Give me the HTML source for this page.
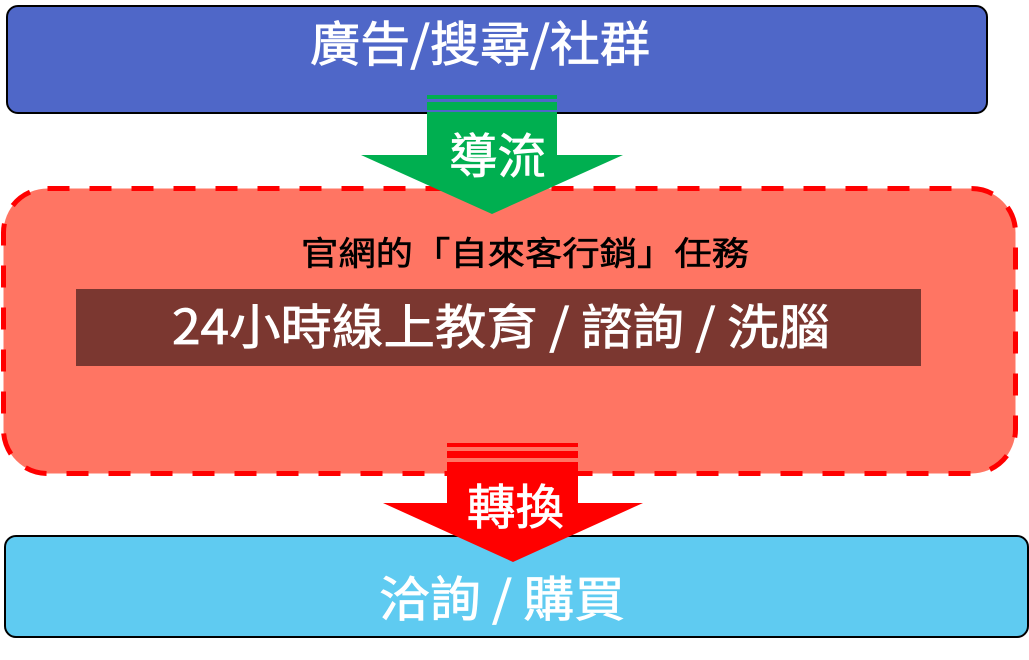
<!DOCTYPE html>
<html><head><meta charset="utf-8"><style>
body{margin:0;width:1029px;height:660px;background:#fff;position:relative;overflow:hidden}
text{font-family:"Noto Sans CJK TC","Liberation Sans",sans-serif}
</style></head><body>
<svg style="position:absolute;left:0;top:0" width="1029" height="660">
<rect x="7" y="6" width="980" height="107" rx="11" fill="#4F67C8" stroke="#000" stroke-width="2"/>
<rect x="3.5" y="188.5" width="1012" height="285" rx="44" fill="#FF7563" stroke="#FF0000" stroke-width="5" stroke-dasharray="22 20"/>
<rect x="5" y="536" width="1023" height="101" rx="11" fill="#5FCBF1" stroke="#000" stroke-width="2"/>
<rect x="76" y="289" width="845" height="77" fill="#7B3730"/>
<g fill="#fff" stroke="#fff" stroke-width="0.8">
<text x="310" y="61" font-size="48" textLength="340" lengthAdjust="spacingAndGlyphs">廣告/搜尋/社群</text>
<text x="172" y="344" font-size="48" textLength="658" lengthAdjust="spacingAndGlyphs">24小時線上教育 / 諮詢 / 洗腦</text>
<text x="379" y="616" font-size="48" textLength="246" lengthAdjust="spacingAndGlyphs">洽詢 / 購買</text>
</g>
<text x="301" y="265" font-size="33" textLength="448" lengthAdjust="spacingAndGlyphs" fill="#000" stroke="#000" stroke-width="0.6">官網的「自來客行銷」任務</text>
<rect x="427" y="95" width="130" height="4" fill="#00AF50"/>
<rect x="427" y="102" width="130" height="8" fill="#00AF50"/>
<polygon points="427,112 557,112 557,155 623,155 492,214 361,155 427,155" fill="#00AF50"/>
<text x="449" y="173" font-size="48" textLength="97" lengthAdjust="spacingAndGlyphs" fill="#fff" stroke="#fff" stroke-width="0.8">導流</text>
<rect x="447" y="443" width="131" height="4" fill="#FF0000"/>
<rect x="447" y="451" width="131" height="7" fill="#FF0000"/>
<polygon points="447,462 578,462 578,503 643,503 513,562 383,503 447,503" fill="#FF0000"/>
<text x="467" y="524" font-size="48" textLength="97" lengthAdjust="spacingAndGlyphs" fill="#fff" stroke="#fff" stroke-width="0.8">轉換</text>
</svg>
</body></html>
